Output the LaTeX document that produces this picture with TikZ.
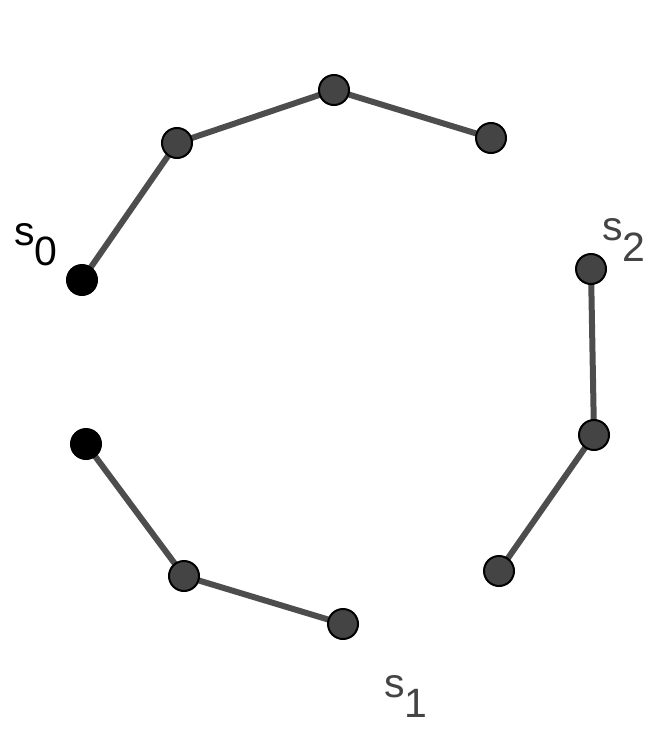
\documentclass[tikz,border=0pt]{standalone}
\usepackage{fontspec}
\setmainfont{Liberation Sans}
\definecolor{nodegray}{HTML}{444444}
\definecolor{linegray}{HTML}{4D4D4D}
\begin{document}
\begin{tikzpicture}[x=1pt,y=-1pt,
  pt/.style={circle,draw=black,line width=2pt,fill=nodegray,minimum size=30pt,inner sep=0pt},
  bpt/.style={pt,fill=black},
  seg/.style={draw=linegray,line width=6pt},
  lab/.style={font=\fontsize{41}{41}\selectfont,inner sep=0pt,anchor=base west}]
\useasboundingbox (0,0) rectangle (657,736);
% chain 1
\coordinate (a1) at (82,280);
\coordinate (a2) at (177,143);
\coordinate (a3) at (334,90);
\coordinate (a4) at (491,138);
% chain 2
\coordinate (b1) at (591,269);
\coordinate (b2) at (594,435);
\coordinate (b3) at (499,571);
% chain 3
\coordinate (c1) at (86,444);
\coordinate (c2) at (184,576);
\coordinate (c3) at (343,624);
\draw[seg] (a1) -- (a2) -- (a3) -- (a4);
\draw[seg] (b1) -- (b2) -- (b3);
\draw[seg] (c1) -- (c2) -- (c3);
\node[bpt] (na1) at (a1) {};
\node[pt] (na2) at (a2) {};
\node[pt] (na3) at (a3) {};
\node[pt] (na4) at (a4) {};
\node[pt] (nb1) at (b1) {};
\node[pt] (nb2) at (b2) {};
\node[pt] (nb3) at (b3) {};
\node[bpt] (nc1) at (c1) {};
\node[pt] (nc2) at (c2) {};
\node[pt] (nc3) at (c3) {};
\node[lab,text=black] (s0) at (14,245) {s\raisebox{-20pt}{0}};
\node[lab,text=nodegray] (s2) at (602,240) {s\raisebox{-21pt}{2}};
\node[lab,text=nodegray] (s1) at (384,697) {s\raisebox{-20pt}{1}};
\end{tikzpicture}
\end{document}
